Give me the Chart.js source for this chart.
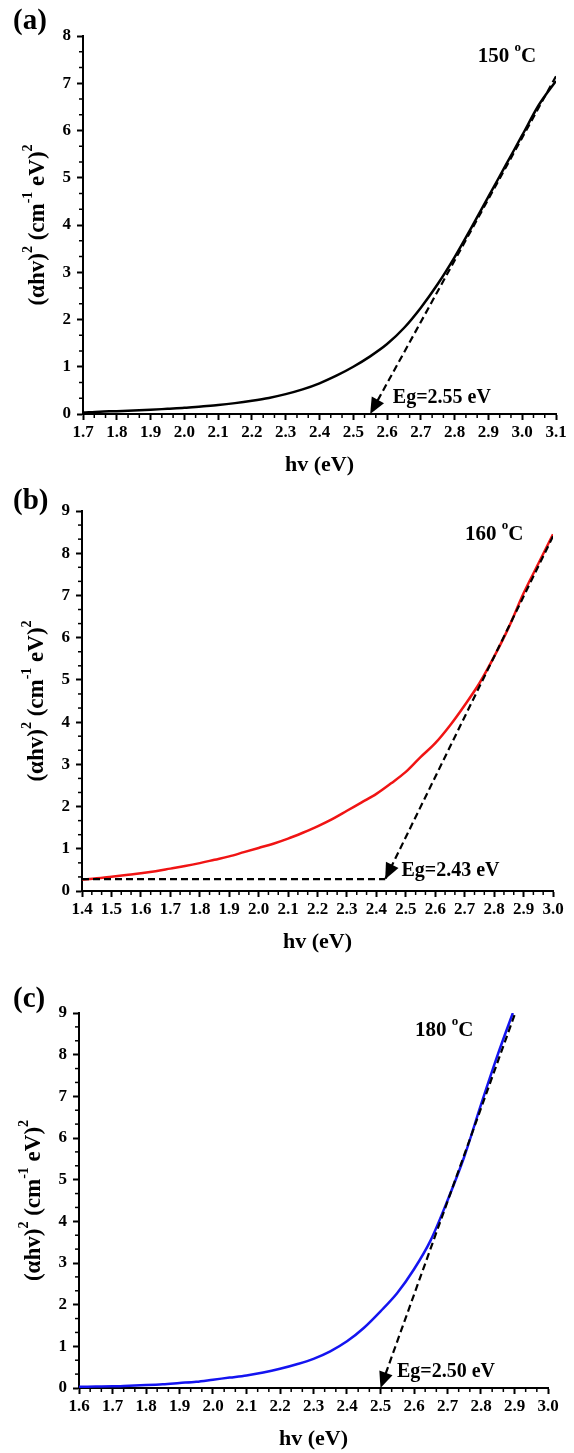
<!DOCTYPE html>
<html>
<head>
<meta charset="utf-8">
<script src="https://cdn.jsdelivr.net/npm/chart.js@4.4.1/dist/chart.umd.min.js"></script>
<style>
  html, body { margin: 0; padding: 0; background: #fff; overflow: hidden; }
  #wrap { position: relative; width: 574px; height: 1453px; }
  canvas { position: absolute; left: 0; }
</style>
</head>
<body>
<div id="wrap">
  <canvas id="chartA" width="574" height="484" style="top:0px"></canvas>
  <canvas id="chartB" width="574" height="477" style="top:484px"></canvas>
  <canvas id="chartC" width="574" height="497" style="top:961px"></canvas>
</div>
<script>
// ---- data ----
const panelLabels = ["(a)", "(b)", "(c)"];
const tempLabels = ["150 ", "160 ", "180 "];
const gapLabels = ["Eg=2.55 eV", "Eg=2.43 eV", "Eg=2.50 eV"];
const xTitle = "hv (eV)";

// (a) 150 oC
const xRangeA = [1.7, 3.1];
const yRangeA = [0, 8];
const energyA = [1.70, 1.75, 1.80, 1.85, 1.90, 1.95, 2.00, 2.05, 2.10, 2.15, 2.20, 2.25, 2.30, 2.35,
  2.40, 2.45, 2.50, 2.55, 2.60, 2.65, 2.70, 2.75, 2.80, 2.85, 2.90, 2.95, 3.00, 3.05, 3.10];
const absA = [0.03, 0.05, 0.06, 0.075, 0.09, 0.11, 0.13, 0.16, 0.19, 0.23, 0.28, 0.34, 0.42, 0.52,
  0.65, 0.81, 1.00, 1.22, 1.48, 1.82, 2.25, 2.75, 3.32, 3.95, 4.60, 5.25, 5.90, 6.55, 7.05];
const fitEnergyA = [3.10, 2.55];
const fitAbsA = [7.15, 0];

// (b) 160 oC
const xRangeB = [1.4, 3.0];
const yRangeB = [0, 9];
const energyB = [1.40, 1.45, 1.50, 1.55, 1.60, 1.65, 1.70, 1.75, 1.80, 1.85, 1.90, 1.95, 2.00, 2.05,
  2.10, 2.15, 2.20, 2.25, 2.30, 2.35, 2.40, 2.45, 2.50, 2.55, 2.60, 2.65, 2.70, 2.75, 2.80, 2.85,
  2.90, 2.95, 3.00];
const absB = [0.27, 0.30, 0.34, 0.38, 0.42, 0.47, 0.53, 0.59, 0.66, 0.74, 0.82, 0.92, 1.02, 1.12,
  1.24, 1.38, 1.53, 1.70, 1.90, 2.10, 2.30, 2.55, 2.82, 3.17, 3.50, 3.92, 4.40, 4.92, 5.55, 6.25,
  7.05, 7.75, 8.45];
const fitEnergyB = [3.00, 2.43];
const fitAbsB = [8.40, 0.28];
const baseEnergyB = [1.40, 2.43];
const baseAbsB = [0.28, 0.28];

// (c) 180 oC
const xRangeC = [1.6, 3.0];
const yRangeC = [0, 9];
const energyC = [1.60, 1.65, 1.70, 1.75, 1.80, 1.85, 1.90, 1.95, 2.00, 2.05, 2.10, 2.15, 2.20, 2.25,
  2.30, 2.35, 2.40, 2.45, 2.50, 2.55, 2.60, 2.65, 2.70, 2.75, 2.80, 2.85, 2.895];
const absC = [0.03, 0.035, 0.04, 0.055, 0.07, 0.09, 0.12, 0.15, 0.20, 0.25, 0.30, 0.37, 0.46, 0.57,
  0.70, 0.88, 1.12, 1.44, 1.84, 2.28, 2.85, 3.55, 4.50, 5.55, 6.80, 8.00, 9.00];
const fitEnergyC = [2.90, 2.50];
const fitAbsC = [8.95, 0];

// ---- helpers ----
const SERIF = "'Liberation Serif', 'Times New Roman', serif";

function toPoints(xs, ys) {
  return xs.map((x, i) => ({ x: x, y: ys[i] }));
}

function drawRich(ctx, parts, size, bold) {
  // draws parts left to right, centred on the current origin
  const w = bold ? "bold " : "";
  const supSize = Math.round(size * 0.62);
  let total = 0;
  parts.forEach((p) => {
    ctx.font = w + (p.sup ? supSize : size) + "px " + SERIF;
    p.w = ctx.measureText(p.t).width;
    total += p.w;
  });
  let x = -total / 2;
  ctx.textBaseline = "middle";
  ctx.textAlign = "left";
  parts.forEach((p) => {
    ctx.font = w + (p.sup ? supSize : size) + "px " + SERIF;
    ctx.fillText(p.t, x, p.sup ? -size * 0.42 : 0);
    x += p.w;
  });
  return total;
}

function makeChart(canvasId, spec) {
  const canvas = document.getElementById(canvasId);
  if (!canvas) return;

  const datasets = [];
  const arrows = [];
  spec.dashed.forEach((d) => {
    if (d.arrow) arrows.push(datasets.length);
    datasets.push({
      data: toPoints(d.x, d.y),
      borderColor: "#000",
      borderWidth: 2.2,
      borderDash: [7, 4],
      pointRadius: 0,
      fill: false,
    });
  });
  datasets.push({
    data: toPoints(spec.energy, spec.abs),
    borderColor: spec.color,
    borderWidth: 2.5,
    pointRadius: 0,
    cubicInterpolationMode: "monotone",
    fill: false,
  });

  const decor = {
    id: "decor",
    afterDraw(chart) {
      const ctx = chart.ctx;
      const xs = chart.scales.x;
      const ys = chart.scales.y;
      const area = chart.chartArea;
      ctx.save();
      ctx.fillStyle = "#000";
      ctx.strokeStyle = "#000";

      // minor ticks (two between every pair of majors)
      ctx.lineWidth = 1.5;
      [xs, ys].forEach((s) => {
        const t = s.ticks.map((k) => k.value);
        for (let i = 0; i < t.length - 1; i++) {
          for (let k = 1; k <= 2; k++) {
            const p = s.getPixelForValue(t[i] + ((t[i + 1] - t[i]) * k) / 3);
            ctx.beginPath();
            if (s === xs) {
              ctx.moveTo(p, area.bottom);
              ctx.lineTo(p, area.bottom + 4);
            } else {
              ctx.moveTo(area.left, p);
              ctx.lineTo(area.left - 4, p);
            }
            ctx.stroke();
          }
        }
      });

      // arrow heads at the end of the tangent lines
      arrows.forEach((idx) => {
        const pts = chart.getDatasetMeta(idx).data;
        const tip = pts[pts.length - 1];
        const prev = pts[pts.length - 2];
        const a = Math.atan2(tip.y - prev.y, tip.x - prev.x);
        const L = 16, W = 7;
        const bx = tip.x - L * Math.cos(a);
        const by = tip.y - L * Math.sin(a);
        ctx.beginPath();
        ctx.moveTo(tip.x, tip.y);
        ctx.lineTo(bx + W * Math.sin(a), by - W * Math.cos(a));
        ctx.lineTo(bx - W * Math.sin(a), by + W * Math.cos(a));
        ctx.closePath();
        ctx.fill();
      });

      // y axis title with superscripts
      ctx.save();
      ctx.translate(area.left - 45, (area.top + area.bottom) / 2);
      ctx.rotate(-Math.PI / 2);
      drawRich(ctx, [
        { t: "(\u03b1hv)" }, { t: "2", sup: true }, { t: " (cm" },
        { t: "-1", sup: true }, { t: " eV)" }, { t: "2", sup: true },
      ], 23, true);
      ctx.restore();

      // temperature label
      ctx.save();
      ctx.translate(xs.getPixelForValue(spec.tempAt[0]), ys.getPixelForValue(spec.tempAt[1]));
      drawRich(ctx, [{ t: spec.temp }, { t: "o", sup: true }, { t: "C" }], 21, true);
      ctx.restore();

      // band gap label
      ctx.font = "bold 20px " + SERIF;
      ctx.textAlign = "left";
      ctx.textBaseline = "middle";
      ctx.fillText(spec.gap, xs.getPixelForValue(spec.gapAt[0]), ys.getPixelForValue(spec.gapAt[1]));

      // panel label
      ctx.font = "bold 29px " + SERIF;
      ctx.fillText(spec.panel, 13, spec.panelY);
      ctx.restore();
    },
  };

  const tickFont = { family: SERIF, size: 17, weight: "bold" };
  const noPad = (s) => {
    s.paddingTop = 0; s.paddingBottom = 0; s.paddingLeft = 0; s.paddingRight = 0;
  };

  new Chart(canvas.getContext("2d"), {
    type: "line",
    data: { datasets: datasets },
    options: {
      responsive: false,
      animation: false,
      devicePixelRatio: 1,
      layout: { padding: { top: spec.padTop, right: spec.padRight, left: 0, bottom: 0 } },
      plugins: { legend: { display: false }, tooltip: { enabled: false } },
      scales: {
        x: {
          type: "linear",
          min: spec.xRange[0],
          max: spec.xRange[1],
          ticks: {
            stepSize: 0.1,
            autoSkip: false,
            maxRotation: 0,
            color: "#000",
            font: tickFont,
            padding: 2,
            callback: (v) => v.toFixed(1),
          },
          grid: { drawOnChartArea: false, tickLength: 6, tickWidth: 2, tickColor: "#000" },
          border: { display: true, color: "#000", width: 2 },
          title: {
            display: true,
            text: xTitle,
            color: "#000",
            font: { family: SERIF, size: 22, weight: "bold" },
            padding: { top: 0, bottom: 5 },
          },
          afterFit: (s) => { s.height = 70; noPad(s); },
        },
        y: {
          min: spec.yRange[0],
          max: spec.yRange[1],
          ticks: { stepSize: 1, color: "#000", font: tickFont, padding: 6 },
          grid: { drawOnChartArea: false, tickLength: 6, tickWidth: 2, tickColor: "#000" },
          border: { display: true, color: "#000", width: 2 },
          afterFit: (s) => { s.width = spec.axisLeft; noPad(s); },
        },
      },
    },
    plugins: [decor],
  });
}

makeChart("chartA", {
  energy: energyA, abs: absA, color: "#000000",
  dashed: [{ x: fitEnergyA, y: fitAbsA, arrow: true }],
  xRange: xRangeA, yRange: yRangeA,
  padTop: 36, padRight: 18, axisLeft: 83,
  panel: panelLabels[0], panelY: 22,
  temp: tempLabels[0], tempAt: [2.955, 7.56],
  gap: gapLabels[0], gapAt: [2.617, 0.34],
});

makeChart("chartB", {
  energy: energyB, abs: absB, color: "#f01414",
  dashed: [
    { x: fitEnergyB, y: fitAbsB, arrow: true },
    { x: baseEnergyB, y: baseAbsB },
  ],
  xRange: xRangeB, yRange: yRangeB,
  padTop: 27, padRight: 21, axisLeft: 82,
  panel: panelLabels[1], panelY: 18,
  temp: tempLabels[1], tempAt: [2.80, 8.44],
  gap: gapLabels[1], gapAt: [2.485, 0.47],
});

makeChart("chartC", {
  energy: energyC, abs: absC, color: "#1414f0",
  dashed: [{ x: fitEnergyC, y: fitAbsC, arrow: true }],
  xRange: xRangeC, yRange: yRangeC,
  padTop: 52, padRight: 26, axisLeft: 79,
  panel: panelLabels[2], panelY: 39,
  temp: tempLabels[2], tempAt: [2.69, 8.59],
  gap: gapLabels[2], gapAt: [2.549, 0.38],
});
</script>
</body>
</html>
